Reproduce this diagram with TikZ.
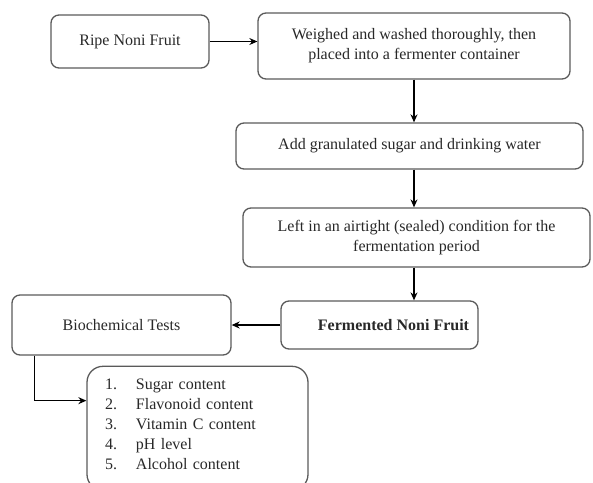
\documentclass[tikz,border=0pt]{standalone}
\usepackage{fontspec}
\setmainfont{Liberation Serif}
\usetikzlibrary{positioning,arrows.meta}
\definecolor{boxgray}{RGB}{90,90,90}
\definecolor{inkgray}{RGB}{40,40,40}

\begin{document}
\begin{tikzpicture}[x=1pt,y=-1pt,>=Stealth,thick,
        stepbox/.style={draw=boxgray, line width=1.3pt, rounded corners=8pt, align=center, inner sep=0pt, text=inkgray, font=\fontsize{16}{20}\selectfont},
        flow/.style={->, line width=1.2pt, >={Stealth[length=8pt,width=7pt]}}]
        \useasboundingbox (0,0) rectangle (593,482);
        \clip (0,0) rectangle (593,482);

        \node (ripe) [stepbox, minimum width=158pt, minimum height=53pt] at (130,41.5) {Ripe Noni Fruit};
        \node (weigh) [stepbox, minimum width=312pt, minimum height=66pt] at (414,46) {Weighed and washed thoroughly, then\\placed into a fermenter container};
        \node (sugar) [stepbox, minimum width=347pt, minimum height=46pt] at (409.5,146) {Add granulated sugar and drinking water};
        \node (sealed) [stepbox, minimum width=347pt, minimum height=59pt] at (416.5,237.5) {Left in an airtight (sealed) condition for the\\fermentation period};
        \node (ferm) [stepbox, minimum width=197pt, minimum height=48pt] at (379.5,325) {\hspace*{28pt}\textbf{Fermented Noni Fruit}};
        \node (biochem) [stepbox, minimum width=219pt, minimum height=60pt] at (121.5,325) {Biochemical Tests};
        \node (tests) [stepbox, rounded corners=16pt, minimum height=124pt, inner xsep=18pt, text width=185pt, align=left, below right=10pt and 75pt of biochem.south west]
            {\makebox[31pt][l]{1.}Sugar content\\
             \makebox[31pt][l]{2.}Flavonoid content\\
             \makebox[31pt][l]{3.}Vitamin C content\\
             \makebox[31pt][l]{4.}pH level\\
             \makebox[31pt][l]{5.}Alcohol content\\[-12pt]\mbox{}};

        \draw[flow] (ripe.east) -- (ripe.east -| weigh.west);
        \draw[flow] (weigh.south) -- (weigh.south |- sugar.north);
        \draw[flow] (sugar.south -| weigh.south) -- (sealed.north -| weigh.south);
        \draw[flow] (sealed.south -| weigh.south) -- (ferm.north -| weigh.south);
        \draw[flow] (ferm.west) -- (ferm.west -| biochem.east);
        \draw[flow] ([xshift=23pt]biochem.south west) |- ([yshift=-35pt]tests.north west);
    \end{tikzpicture}
\end{document}
